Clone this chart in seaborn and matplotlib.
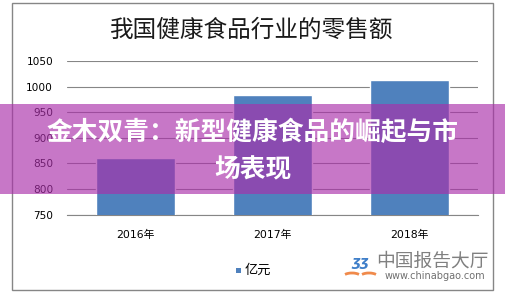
import matplotlib
matplotlib.use("Agg")
import matplotlib.pyplot as plt
from matplotlib.patches import Rectangle, Arc
import pandas as pd
import seaborn as sns

# Retail sales of China's health food industry (100 million yuan)
years = ["2016年", "2017年", "2018年"]
sales = [860, 984, 1013]
y_ticks = [750, 800, 850, 900, 950, 1000, 1050]
title = "我国健康食品行业的零售额"
unit_label = "亿元"
banner = "金木双青：新型健康食品的崛起与市\n场表现"

sns.set_style("white")
plt.rcParams["font.family"] = ["DejaVu Sans", "Noto Sans CJK SC"]

W, H = 505, 298
fig = plt.figure(figsize=(W / 100, H / 100), dpi=100)
fig.patch.set_facecolor("white")


def fx(px):
    return px / W


def fy(py):
    return 1 - py / H


# main chart axes
left, right, top, bottom = 67, 478, 61, 214.7
ax = fig.add_axes([fx(left), fy(bottom), fx(right - left), (bottom - top) / H])
df = pd.DataFrame({"year": years, "sales": sales})
sns.barplot(data=df, x="year", y="sales", color="#4f81bd", saturation=1,
            width=0.577, ax=ax, zorder=3)
ax.set_ylim(750, 1050)
ax.set_yticks(y_ticks)
ax.set_yticklabels([str(v) for v in y_ticks], fontsize=7.6, color="#000000")
ax.set_xticks(range(len(years)))
ax.set_xticklabels(years, fontsize=7.8, color="#000000")
ax.set_xlabel("")
ax.set_ylabel("")
ax.tick_params(axis="y", length=0, pad=10)
ax.tick_params(axis="x", length=0, pad=11)
ax.grid(axis="y", color="#868686", linewidth=0.8, zorder=0)
ax.set_axisbelow(True)
for side in ["left", "right", "top"]:
    ax.spines[side].set_visible(False)
ax.spines["bottom"].set_color("#868686")
ax.spines["bottom"].set_linewidth(0.8)
ax.set_facecolor("none")

# overlay in pixel coordinates
ov = fig.add_axes([0, 0, 1, 1])
ov.set_xlim(0, W)
ov.set_ylim(H, 0)
ov.axis("off")
ov.patch.set_alpha(0)

ov.add_patch(Rectangle((12, 3), 481, 287, fill=False, edgecolor="#868686", linewidth=1))
ov.text(252, 30, title, ha="center", va="center", fontsize=17,
        family=["Noto Sans CJK SC"], fontweight="light", color="#1a1a1a")

# legend
ov.add_patch(Rectangle((236, 267.5), 5, 5, facecolor="#4f81bd", edgecolor="none"))
ov.text(245, 270.5, unit_label, ha="left", va="center", fontsize=9.5,
        family=["Noto Sans CJK SC"], color="#000000")

# watermark
ov.add_patch(Arc((352, 277), 18, 8, theta1=200, theta2=340, color="#f08a4b", linewidth=2))
ov.add_patch(Arc((369, 277), 18, 8, theta1=200, theta2=340, color="#f08a4b", linewidth=2))
ov.text(360, 262, "ʒʒ", ha="center", va="center", fontsize=10, style="italic",
        fontweight="bold", color="#3f7fc9")
ov.text(432, 261, "中国报告大厅", ha="center", va="center", fontsize=13.5,
        family=["Noto Sans CJK SC"], fontweight="medium", color="#808080")
ov.text(434.5, 276, "www.chinabgao.com", ha="center", va="center", fontsize=7,
        color="#707070")

# banner
ov.add_patch(Rectangle((0, 104), W, 90, facecolor="#aa2faa", alpha=0.65,
                       edgecolor="none", zorder=5))
ov.text(253, 151, banner, ha="center", va="center", fontsize=18.5,
        family=["Noto Sans CJK SC"], fontweight="heavy", color="white",
        linespacing=1.5, zorder=6)

fig.savefig("out.png", dpi=100)
